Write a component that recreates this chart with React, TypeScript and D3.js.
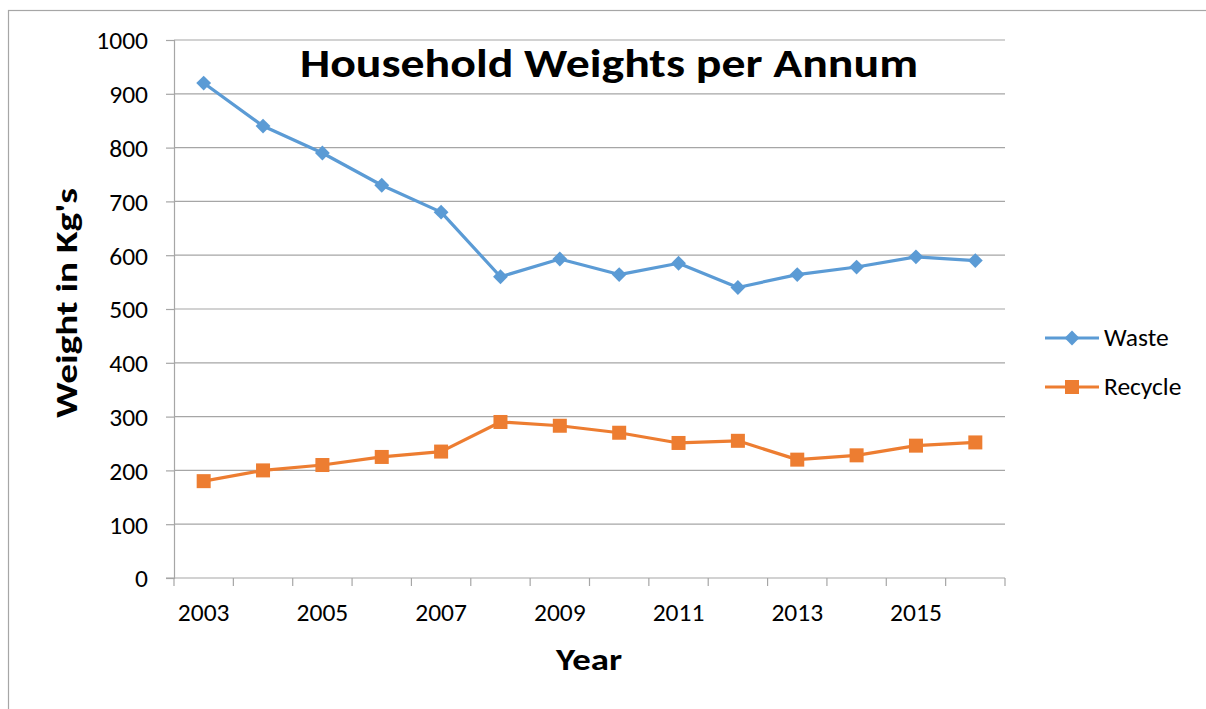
import React, { useEffect, useRef } from "react";
import * as d3 from "d3";

const years = ["2003", "2004", "2005", "2006", "2007", "2008", "2009", "2010", "2011", "2012", "2013", "2014", "2015", "2016"];
const waste = [920, 840, 790, 730, 680, 560, 593, 564, 585, 540, 564, 578, 597, 590];
const recycle = [180, 200, 210, 225, 235, 290, 283, 270, 251, 255, 220, 228, 246, 252];
const yTicks = [0, 100, 200, 300, 400, 500, 600, 700, 800, 900, 1000];
const seriesNames = ["Waste", "Recycle"];
const seriesColors = ["#5B9BD5", "#ED7D31"];

const W = 1206;
const H = 709;
const FONT = "Carlito, Calibri, Lato, 'Open Sans', sans-serif";

export default function App() {
  const svgRef = useRef<SVGSVGElement | null>(null);

  useEffect(() => {
    const svg = d3.select(svgRef.current);
    svg.selectAll("*").remove();

    const left = 174;
    const right = 1005;
    const top = 40;
    const bottom = 578;

    // outer frame (chart border, cut by the window)
    svg
      .append("rect")
      .attr("x", 8.5)
      .attr("y", 10.5)
      .attr("width", 1300)
      .attr("height", 800)
      .attr("fill", "#fff")
      .attr("stroke", "#a6a6a6")
      .attr("stroke-width", 1.2);

    const x = d3.scaleBand().domain(years).range([left, right]).padding(0);
    const y = d3.scaleLinear().domain([0, 1000]).range([bottom, top]);
    const cx = (d: string) => (x(d) ?? 0) + x.bandwidth() / 2;

    // gridlines
    svg
      .append("g")
      .selectAll("line")
      .data(yTicks.filter((t) => t > 0))
      .join("line")
      .attr("x1", left)
      .attr("x2", right)
      .attr("y1", (d) => y(d))
      .attr("y2", (d) => y(d))
      .attr("stroke", "#a6a6a6")
      .attr("stroke-width", 1.2);

    // y axis
    const yAxis = svg
      .append("g")
      .attr("transform", `translate(${left},0)`)
      .call(
        d3
          .axisLeft(y)
          .tickValues(yTicks)
          .tickFormat(d3.format("d"))
          .tickSize(8)
          .tickPadding(18)
      );
    yAxis.select(".domain").attr("stroke", "#a6a6a6").attr("stroke-width", 1.2);
    yAxis.selectAll(".tick line").attr("stroke", "#a6a6a6").attr("stroke-width", 1.2);
    yAxis
      .selectAll(".tick text")
      .attr("font-family", FONT)
      .attr("font-size", 25.5)
      .attr("fill", "#000")
      .attr("dy", "0.35em");

    // x axis: ticks at category boundaries
    const xg = svg.append("g");
    xg.append("line")
      .attr("x1", left - 8)
      .attr("x2", right)
      .attr("y1", bottom)
      .attr("y2", bottom)
      .attr("stroke", "#a6a6a6")
      .attr("stroke-width", 1.2);
    const bounds = years.map((d) => x(d) ?? 0).concat([right]);
    xg.selectAll("line.tk")
      .data(bounds)
      .join("line")
      .attr("class", "tk")
      .attr("x1", (d) => d)
      .attr("x2", (d) => d)
      .attr("y1", bottom)
      .attr("y2", bottom + 8)
      .attr("stroke", "#a6a6a6")
      .attr("stroke-width", 1.2);
    xg.selectAll("text")
      .data(years.filter((_, i) => i % 2 === 0))
      .join("text")
      .attr("x", (d) => cx(d))
      .attr("y", 621)
      .attr("text-anchor", "middle")
      .attr("font-family", FONT)
      .attr("font-size", 25.5)
      .text((d) => d);

    // lines
    const data = [waste, recycle];
    const line = d3
      .line<number>()
      .x((_, i) => cx(years[i]))
      .y((d) => y(d));

    data.forEach((vals, si) => {
      const g = svg.append("g");
      g.append("path")
        .datum(vals)
        .attr("d", line)
        .attr("fill", "none")
        .attr("stroke", seriesColors[si])
        .attr("stroke-width", 3.2)
        .attr("stroke-linejoin", "round");
      if (si === 0) {
        g.selectAll("path.m")
          .data(vals)
          .join("path")
          .attr("class", "m")
          .attr("d", d3.symbol(d3.symbolDiamond2, 140)())
          .attr("transform", (d, i) => `translate(${cx(years[i])},${y(d)})`)
          .attr("fill", seriesColors[si]);
      } else {
        g.selectAll("rect.m")
          .data(vals)
          .join("rect")
          .attr("class", "m")
          .attr("x", (_, i) => cx(years[i]) - 7)
          .attr("y", (d) => y(d) - 7)
          .attr("width", 14)
          .attr("height", 14)
          .attr("fill", seriesColors[si]);
      }
    });

    // title
    svg
      .append("text")
      .attr("x", 609)
      .attr("y", 77)
      .attr("text-anchor", "middle")
      .attr("font-family", FONT)
      .attr("font-weight", "bold")
      .attr("font-size", 40)
      .attr("textLength", 618)
      .attr("lengthAdjust", "spacingAndGlyphs")
      .text("Household Weights per Annum");

    // axis titles
    svg
      .append("text")
      .attr("transform", `translate(77,303) rotate(-90)`)
      .attr("text-anchor", "middle")
      .attr("font-family", FONT)
      .attr("font-weight", "bold")
      .attr("font-size", 30)
      .attr("textLength", 230)
      .attr("lengthAdjust", "spacingAndGlyphs")
      .text("Weight in Kg's");

    svg
      .append("text")
      .attr("x", 589)
      .attr("y", 670)
      .attr("text-anchor", "middle")
      .attr("font-family", FONT)
      .attr("font-weight", "bold")
      .attr("font-size", 30)
      .attr("textLength", 66)
      .attr("lengthAdjust", "spacingAndGlyphs")
      .text("Year");

    // legend
    const legendY = [338, 387];
    seriesNames.forEach((name, i) => {
      const g = svg.append("g").attr("transform", `translate(0,${legendY[i]})`);
      g.append("line")
        .attr("x1", 1045)
        .attr("x2", 1099)
        .attr("y1", 0)
        .attr("y2", 0)
        .attr("stroke", seriesColors[i])
        .attr("stroke-width", 3.2);
      if (i === 0) {
        g.append("path")
          .attr("d", d3.symbol(d3.symbolDiamond2, 140)())
          .attr("transform", "translate(1072,0)")
          .attr("fill", seriesColors[i]);
      } else {
        g.append("rect")
          .attr("x", 1065)
          .attr("y", -7)
          .attr("width", 14)
          .attr("height", 14)
          .attr("fill", seriesColors[i]);
      }
      g.append("text")
        .attr("x", 1104)
        .attr("y", 8)
        .attr("font-family", FONT)
        .attr("font-size", 25.5)
        .text(name);
    });
  }, []);

  return (
    <svg
      ref={svgRef}
      width={W}
      height={H}
      style={{ position: "absolute", left: 0, top: 0, display: "block" }}
    />
  );
}
